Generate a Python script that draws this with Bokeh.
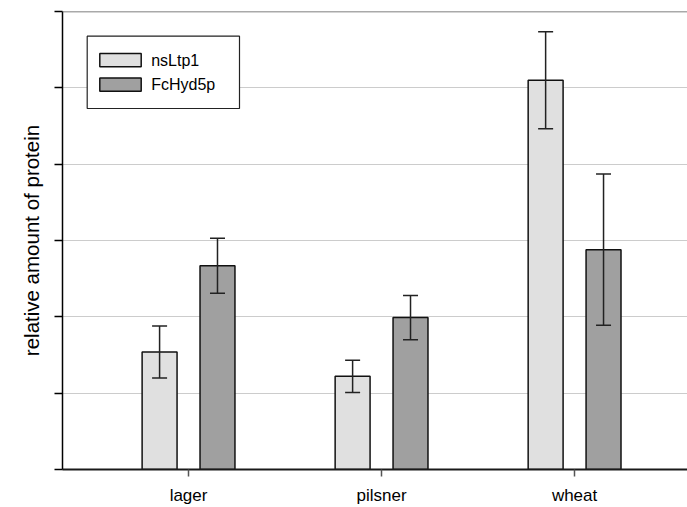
from bokeh.plotting import figure
from bokeh.models import (ColumnDataSource, Range1d, FixedTicker, Whisker, TeeHead,
                          Span, BoxAnnotation, Label)
from bokeh.embed import file_html
from bokeh.resources import INLINE
import numpy as np

# Relative protein amounts per beer type, with error bar half-widths
categories = ["lager", "pilsner", "wheat"]
series_names = ["nsLtp1", "FcHyd5p"]
nsltp1 = [1.54, 1.22, 5.10]
nsltp1_err = [0.34, 0.21, 0.635]
fchyd5p = [2.67, 1.99, 2.88]
fchyd5p_err = [0.36, 0.29, 0.99]
y_ticks = [0, 1, 2, 3, 4, 5, 6]

colors = ["#e0e0e0", "#a0a0a0"]
FONT = "Liberation Sans"

p = figure(width=687, height=507, output_backend="svg", toolbar_location=None,
           x_range=Range1d(-0.653, 2.585), y_range=Range1d(0, 6),
           min_border_left=62, min_border_right=0, min_border_top=11,
           min_border_bottom=37)
p.outline_line_color = None
p.background_fill_color = "white"
p.border_fill_color = "white"

idx = np.arange(len(categories))
offset = 0.150
bar_w = 0.181

for i, (vals, errs, col) in enumerate([(nsltp1, nsltp1_err, colors[0]),
                                       (fchyd5p, fchyd5p_err, colors[1])]):
    xs = idx + (offset if i else -offset)
    vals = np.array(vals)
    errs = np.array(errs)
    src = ColumnDataSource(dict(x=xs, top=vals, upper=vals + errs, lower=vals - errs))
    p.vbar(x="x", top="top", bottom=0, width=bar_w, source=src,
           fill_color=col, line_color="#111111", line_width=1.5)
    w = Whisker(base="x", upper="upper", lower="lower", source=src, level="overlay",
                line_color="#222222", line_width=1.5,
                upper_head=TeeHead(size=15, line_color="#222222", line_width=1.5),
                lower_head=TeeHead(size=15, line_color="#222222", line_width=1.5))
    p.add_layout(w)

# Grid
p.xgrid.grid_line_color = None
p.ygrid.ticker = FixedTicker(ticks=y_ticks[1:-1])
p.ygrid.grid_line_color = "#cccccc"
p.ygrid.grid_line_width = 1
p.add_layout(Span(location=y_ticks[-1], dimension="width",
                  line_color="#555555", line_width=1.5))

# Y axis: ticks only, no numbers
p.yaxis.ticker = FixedTicker(ticks=y_ticks)
p.yaxis.major_label_overrides = {t: "" for t in y_ticks}
p.yaxis.major_tick_out = 8
p.yaxis.major_tick_in = 0
p.yaxis.minor_tick_line_color = None
p.yaxis.axis_line_color = "black"
p.yaxis.axis_line_width = 1.5
p.yaxis.major_tick_line_color = "black"
p.yaxis.major_tick_line_width = 1.5
p.yaxis.axis_label = "relative amount of protein"
p.yaxis.axis_label_text_font = FONT
p.yaxis.axis_label_text_font_style = "normal"
p.yaxis.axis_label_text_font_size = "20.5px"
p.yaxis.axis_label_text_color = "black"
p.yaxis.axis_label_standoff = 12

# X axis: one tick per category
p.xaxis.ticker = FixedTicker(ticks=list(idx))
p.xaxis.major_label_overrides = {int(i): c for i, c in zip(idx, categories)}
p.xaxis.major_tick_out = 7
p.xaxis.major_tick_in = 0
p.xaxis.minor_tick_line_color = None
p.xaxis.axis_line_color = "#1a1a1a"
p.xaxis.axis_line_width = 2
p.xaxis.major_tick_line_color = "#555555"
p.xaxis.major_tick_line_width = 1.5
p.xaxis.major_label_text_font = FONT
p.xaxis.major_label_text_font_size = "17px"
p.xaxis.major_label_text_color = "black"
p.xaxis.major_label_standoff = 9

# Legend box drawn in screen units inside the frame
p.add_layout(BoxAnnotation(left=24.7, right=177, top=433.3, bottom=361,
                           left_units="screen", right_units="screen",
                           top_units="screen", bottom_units="screen",
                           fill_color="white", fill_alpha=1,
                           line_color="#222222", line_alpha=1, line_width=1.2))
for k, (name, col) in enumerate(zip(series_names, colors)):
    top = 416 - k * 24.5
    p.add_layout(BoxAnnotation(left=37.3, right=78.7, top=top, bottom=top - 13.3,
                               left_units="screen", right_units="screen",
                               top_units="screen", bottom_units="screen",
                               fill_color=col, fill_alpha=1,
                               line_color="#111111", line_alpha=1, line_width=1.5))
    p.add_layout(Label(x=88.7, y=top - 6.6, x_units="screen", y_units="screen",
                       text=name, text_font=FONT, text_font_size="16px",
                       text_color="black", text_baseline="middle"))

open("out.html", "w").write(file_html(p, INLINE))
